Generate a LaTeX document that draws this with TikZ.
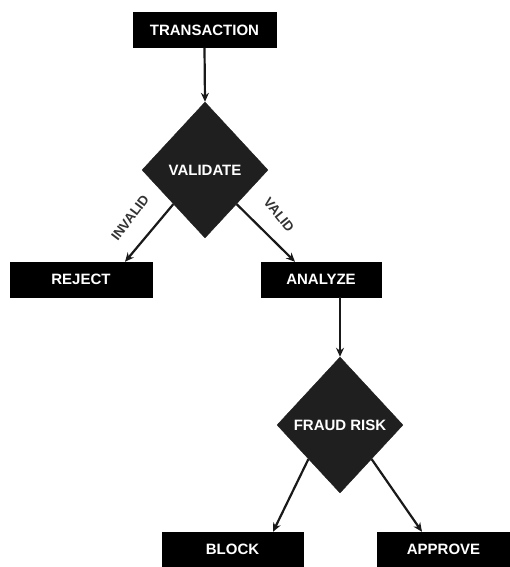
\documentclass[tikz,border=0pt]{standalone}
\usepackage{fontspec}
\setmainfont{Liberation Sans}
\usetikzlibrary{shapes.geometric,arrows.meta}
\begin{document}
\begin{tikzpicture}[x=1pt,y=-1pt,
  box/.style={rectangle,fill=black,draw=black,text=white,font=\bfseries\fontsize{15}{15}\selectfont,inner sep=0pt,minimum height=35pt},
  dia/.style={diamond,fill=black!88,draw=black!88,text=white,font=\bfseries\fontsize{15}{15}\selectfont,inner sep=0pt,minimum width=126pt,minimum height=136pt},
  conn/.style={draw=black!90,line width=2.2pt,-{Stealth[length=9pt,width=8pt]}},
  lbl/.style={text=black!80,font=\bfseries\fontsize{13.5}{13.5}\selectfont,inner sep=0pt}]
\useasboundingbox (0,0) rectangle (510,567);
\clip (0,0) rectangle (510,567);
\node[box,minimum width=143pt] (trans) at (204.5,30) {TRANSACTION};
\node[dia] (validate) at (205,170) {VALIDATE};
\node[box,minimum width=142pt] (reject) at (81,279.5) {REJECT};
\node[box,minimum width=120pt] (analyze) at (321,279.5) {ANALYZE};
\node[dia] (fraud) at (340,425) {FRAUD RISK};
\node[box,minimum width=141pt] (block) at (232.5,549.5) {BLOCK};
\node[box,minimum width=133pt] (approve) at (443.5,549.5) {APPROVE};
\draw[conn] (trans.south) -- (validate.north);
\draw[conn] (validate.south west) -- ([xshift=44pt]reject.north);
\draw[conn] (validate.south east) -- ([xshift=-26pt]analyze.north);
\draw[conn] (analyze.south -| fraud.north) -- (fraud.north);
\draw[conn] (fraud.south west) -- ([xshift=40.5pt]block.north);
\draw[conn] (fraud.south east) -- ([xshift=-21.5pt]approve.north);
\node[lbl,rotate=53] (linv) at (130,218) {INVALID};
\node[lbl,rotate=-51] (lval) at (279,215) {VALID};
\end{tikzpicture}
\end{document}
